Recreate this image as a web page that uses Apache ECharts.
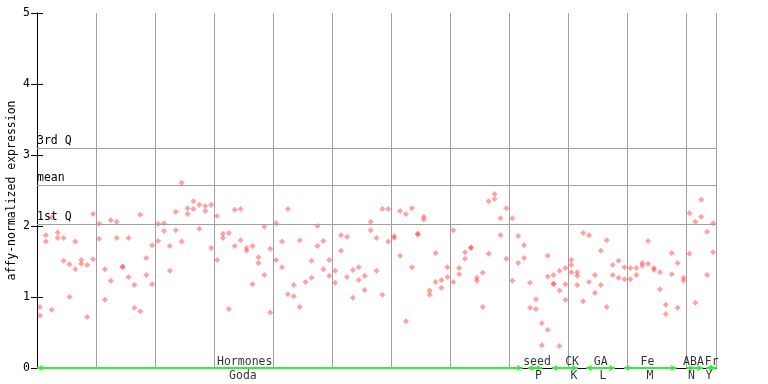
<!DOCTYPE html>
<html><head><meta charset="utf-8">
<script src="https://cdn.jsdelivr.net/npm/echarts@6/dist/echarts.min.js"></script>
<style>html,body{margin:0;padding:0;background:#fff}#c{width:768px;height:384px}</style>
</head><body><div id="c"></div>
<script>
// replicate values per sample slot (slot k drawn at x = k + 0.5)
const rep1 = [
 0.86,1.87,2.12,1.91,1.83,1.46,1.78,1.52,1.45,2.17,
 2.03,1.39,2.08,2.06,1.42,1.83,1.17,2.16,1.55,1.73,
 2.03,2.04,1.72,2.20,2.61,2.25,2.35,2.30,2.28,2.30,
 2.14,1.89,1.90,2.23,2.24,1.69,1.72,1.56,1.99,1.68,
 2.04,1.78,2.24,1.17,1.80,1.21,1.51,2.00,1.79,1.52,
 1.37,1.87,1.85,1.38,1.42,1.30,2.06,1.83,2.24,2.24,
 1.86,2.21,2.17,2.25,1.89,2.13,1.09,1.62,1.24,1.42,
 1.94,1.41,1.63,1.70,1.27,1.34,2.35,2.45,2.11,2.25,
 2.11,1.86,1.73,1.20,0.97,0.63,1.58,1.31,1.37,1.41,
 1.52,1.35,1.90,1.87,1.31,1.65,1.80,1.45,1.51,1.42,
 1.41,1.41,1.48,1.79,1.41,1.35,0.89,1.62,1.48,1.27,
 2.18,2.06,2.37,1.92,2.04
];
const rep2 = [
 0.74,1.78,0.82,1.83,1.51,1.00,1.39,1.47,0.72,1.53,
 1.82,0.96,1.23,1.83,1.43,1.28,0.85,0.80,1.31,1.18,
 1.79,1.93,1.37,1.94,1.78,2.17,2.24,1.96,2.21,1.69,
 1.52,1.83,0.83,1.72,1.80,1.65,1.18,1.48,1.31,0.78,
 1.52,1.42,1.04,1.01,0.86,null,1.27,1.72,1.39,1.30,
 1.20,1.65,1.28,0.99,1.24,1.10,1.94,1.37,1.03,1.78,
 1.83,1.58,0.66,1.42,1.88,2.09,1.03,1.21,1.13,1.28,
 1.21,1.32,1.54,1.69,1.23,0.86,1.61,2.38,1.87,1.54,
 1.23,1.48,1.55,0.85,0.83,0.32,1.29,1.19,1.09,1.18,
 1.45,1.30,0.94,1.21,1.06,1.17,0.86,1.31,1.27,1.25,
 1.25,1.31,1.44,1.47,1.38,1.11,0.76,1.32,0.85,1.23,
 1.61,0.92,2.13,1.31,1.63
];
const rep3Slots = [86,87,88,89,90,91];
const rep3 = [0.54,1.18,0.31,0.96,1.35,1.17];

const statNames = ['3rd Q','mean','1st Q'];
const statValues = [3.10, 2.58, 2.03];

const groupNames = ['Hormones','seed','CK','GA','Fe','ABA','Fr'];
const groupNameX = [35.18, 84.69, 90.62, 95.48, 103.40, 111.18, 114.28];
const groupCodes = ['Goda','P','K','L','M','N','Y'];
const groupCodeX = [34.87, 84.92, 90.94, 95.87, 103.83, 110.84, 113.82];
const segStart = [0, 83.1, 87.2, 93.0, 99.4, 110.0, 113.3];
const segEnd   = [82.27, 85.6, 91.6, 97.9, 108.3, 112.8, 115];

const FONT = 'DejaVu Sans Mono';
const points = [];
rep1.forEach((v,k)=>{ if(v!=null) points.push([k+0.5,v]); });
rep2.forEach((v,k)=>{ if(v!=null) points.push([k+0.5,v]); });
rep3.forEach((v,i)=>{ points.push([rep3Slots[i]+0.5,v]); });

const chart = echarts.init(document.getElementById('c'), null, {renderer:'canvas'});
chart.setOption({
  animation:false,
  backgroundColor:'#fff',
  grid:{left:37, right:52, top:13, bottom:16, containLabel:false, outerBoundsMode:'none'},
  xAxis:[{
    type:'value', min:0, max:115, interval:10,
    axisLine:{show:true, onZero:false, lineStyle:{color:'#000', width:1}},
    axisTick:{show:false}, axisLabel:{show:false},
    splitLine:{show:true, lineStyle:{color:'#a0a0a0', width:1}}
  },{
    type:'value', position:'top', min:0, max:115,
    axisLine:{show:true, lineStyle:{color:'#000', width:1}},
    axisTick:{show:false}, axisLabel:{show:false}, splitLine:{show:false}
  }],
  yAxis:[{
    type:'value', min:0, max:5, interval:1,
    name:'affy-normalized expression', nameLocation:'middle', nameRotate:90, nameGap:19,
    nameMoveOverlap:false,
    nameTextStyle:{fontFamily:FONT, fontSize:11.5, color:'#000'},
    axisLine:{show:true, lineStyle:{color:'#000', width:1}},
    axisTick:{show:true, inside:true, length:6, lineStyle:{color:'#000'}},
    axisLabel:{margin:7, fontFamily:FONT, fontSize:11.5, color:'#000'},
    splitLine:{show:false}
  },{
    type:'value', position:'right', min:0, max:5, interval:1,
    axisLine:{show:true, lineStyle:{color:'#000', width:1}},
    axisTick:{show:true, inside:true, length:6, lineStyle:{color:'#000'}},
    axisLabel:{show:false}, splitLine:{show:false}
  }],
  series:[
    {
      type:'scatter', data:[], silent:true,
      markLine:{
        silent:true, symbol:'none', animation:false,
        lineStyle:{color:'#a0a0a0', width:1, type:'solid'},
        label:{show:true, position:'insideStartTop', formatter:'{b}', distance:[0,1],
               fontFamily:FONT, fontSize:11.5, color:'#000'},
        data: statNames.map((n,i)=>({name:n, yAxis:statValues[i]}))
      }
    },
    {
      type:'scatter', data:points, symbol:'diamond', symbolSize:6, silent:true,
      itemStyle:{color:'rgba(255,60,60,0.6)'}, z:3
    },
    {
      type:'scatter', data:[], silent:true,
      markLine:{
        silent:true, symbol:['arrow','arrow'], symbolSize:[5,6], animation:false,
        lineStyle:{color:'#33ee33', width:2, type:'solid'},
        label:{show:false},
        data: segStart.map((s,i)=>[{coord:[s,0]},{coord:[segEnd[i],0]}])
      }, z:4
    },
    {
      type:'scatter', symbolSize:0, silent:true, clip:false, z:5,
      data: groupNames.map((n,i)=>({name:n, value:[groupNameX[i],0]})),
      label:{show:true, position:'top', distance:0, formatter:'{b}',
             fontFamily:FONT, fontSize:11.5, color:'#000'}
    },
    {
      type:'scatter', symbolSize:0, silent:true, clip:false, z:5,
      data: groupCodes.map((n,i)=>({name:n, value:[groupCodeX[i],0]})),
      label:{show:true, position:'bottom', distance:2, formatter:'{b}',
             fontFamily:FONT, fontSize:11.5, color:'#000'}
    }
  ]
});
</script></body></html>
